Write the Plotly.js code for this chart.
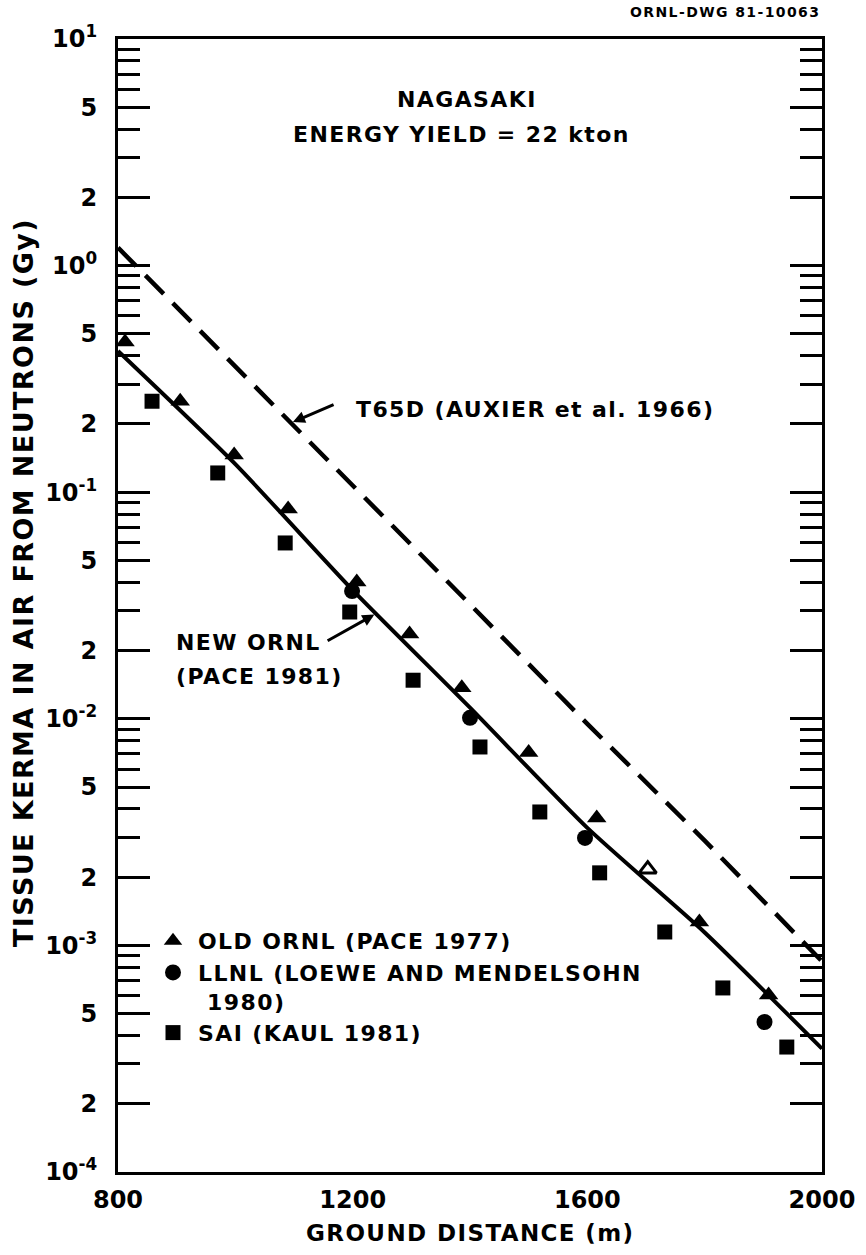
<!DOCTYPE html>
<html>
<head>
<meta charset="utf-8">
<script src="https://cdn.plot.ly/plotly-3.0.1.min.js"></script>
<style>
html,body{margin:0;padding:0;background:#fff}
#chart{width:866px;height:1255px}
.annotation-text, .legendtext { letter-spacing: 1.4px; }
</style>
</head>
<body>
<div id="chart"></div>
<script>
// ---- data ----
const t65dDist   = [800, 1000, 1200, 1400, 1600, 1800, 2000];
const t65dKerma  = [1.2, 0.36, 0.107, 0.032, 0.0095, 0.0029, 0.00085];

const newOrnlDist  = [800, 1000, 1200, 1400, 1600, 1800, 2000];
const newOrnlKerma = [0.42, 0.133, 0.037, 0.0112, 0.0033, 0.00114, 0.00035];

const oldOrnlDist  = [812, 906, 998, 1090, 1207, 1297, 1386, 1500, 1616, 1791, 1909];
const oldOrnlKerma = [0.46, 0.252, 0.146, 0.0843, 0.0402, 0.0237, 0.0137, 0.0071, 0.00365, 0.00127, 0.000604];
const oldOrnlOpenDist  = [1703];
const oldOrnlOpenKerma = [0.00217];

const llnlDist  = [1199, 1400, 1596, 1902];
const llnlKerma = [0.0366, 0.0101, 0.00298, 0.000459];

const saiDist  = [858, 970, 1085, 1195, 1303, 1417, 1519, 1621, 1732, 1831, 1940];
const saiKerma = [0.252, 0.1216, 0.0597, 0.0296, 0.0148, 0.00751, 0.00388, 0.00209, 0.001146, 0.000649, 0.000356];

const xTickVals = [800, 1200, 1600, 2000];
const xTickText = ['800', '1200', '1600', '2000'];
const yTickVals = [10, 5, 2, 1, 0.5, 0.2, 0.1, 0.05, 0.02, 0.01, 0.005, 0.002, 0.001, 0.0005, 0.0002, 0.0001];
const yTickText = ['10<sup>1</sup>', '5', '2', '10<sup>0</sup>', '5', '2', '10<sup>-1</sup>', '5', '2',
                   '10<sup>-2</sup>', '5', '2', '10<sup>-3</sup>', '5', '2', '10<sup>-4</sup>'];
const yMinorMant = [3, 4, 6, 7, 8, 9];
const decades = [-4, -3, -2, -1, 0];

const legendOld  = 'OLD ORNL (PACE 1977)';
const legendLlnl = 'LLNL (LOEWE AND MENDELSOHN<br>&nbsp;1980)';
const legendSai  = 'SAI (KAUL 1981)';

// ---- build ----
const yMinor = [];
decades.forEach(d => yMinorMant.forEach(m => yMinor.push(m * Math.pow(10, d))));

function interpLog(xs, ys, x) {
  for (let i = 0; i < xs.length - 1; i++) {
    if (x >= xs[i] && x <= xs[i + 1]) {
      const f = (x - xs[i]) / (xs[i + 1] - xs[i]);
      return Math.pow(10, Math.log10(ys[i]) + f * (Math.log10(ys[i + 1]) - Math.log10(ys[i])));
    }
  }
  return ys[ys.length - 1];
}

const FONT = 'DejaVu Sans, Arial, sans-serif';
const bold = (size) => ({family: FONT, size: size, color: '#000', weight: 'bold'});

// pixel -> paper helpers (plot area 118..822 x, 39..1172 y)
const L = 118, R = 822, T = 39, B = 1172;
const px = (x) => (x - L) / (R - L);
const py = (y) => (B - y) / (B - T);

const traces = [
  {x: t65dDist, y: t65dKerma, mode: 'lines', showlegend: false,
   line: {color: '#000', width: 4.5, dash: '26px,13px'}, hoverinfo: 'skip'},
  {x: newOrnlDist, y: newOrnlKerma, mode: 'lines', showlegend: false,
   line: {color: '#000', width: 4, shape: 'spline', smoothing: 0.6}, hoverinfo: 'skip'},
  {x: oldOrnlDist, y: oldOrnlKerma, mode: 'markers', name: legendOld,
   marker: {symbol: 'triangle-up', size: 17, color: '#000'}},
  {x: oldOrnlOpenDist, y: oldOrnlOpenKerma, mode: 'markers', showlegend: false,
   marker: {symbol: 'triangle-up', size: 15, color: '#fff', line: {color: '#000', width: 3}}},
  {x: llnlDist, y: llnlKerma, mode: 'markers', name: legendLlnl,
   marker: {symbol: 'circle', size: 16, color: '#000'}},
  {x: saiDist, y: saiKerma, mode: 'markers', name: legendSai,
   marker: {symbol: 'square', size: 15, color: '#000'}}
];

const t65dArrowX = 1095, newArrowX = 1240;

const layout = {
  width: 866, height: 1255,
  margin: {l: L, r: 866 - R, t: T, b: 1255 - B},
  paper_bgcolor: '#fff', plot_bgcolor: '#fff',
  showlegend: true,
  legend: {x: px(148), y: py(920), xanchor: 'left', yanchor: 'top', valign: 'top',
           bgcolor: 'rgba(0,0,0,0)', font: bold(22), tracegroupgap: 0, itemwidth: 40},
  xaxis: {type: 'linear', range: [800, 2000], tickmode: 'array', tickvals: xTickVals, ticktext: xTickText,
          ticks: '', showgrid: false, zeroline: false, showline: true, linewidth: 3, linecolor: '#000',
          mirror: true, tickfont: bold(24), ticklabelstandoff: 4},
  yaxis: {type: 'log', range: [-4, 1], tickmode: 'array', tickvals: yTickVals, ticktext: yTickText,
          ticks: 'inside', ticklen: 32, tickwidth: 3, tickcolor: '#000',
          showgrid: false, zeroline: false, showline: true, linewidth: 3, linecolor: '#000',
          mirror: 'ticks', tickfont: bold(24), ticklabelstandoff: 13,
          minor: {tickmode: 'array', tickvals: yMinor, ticks: 'inside', ticklen: 22, tickwidth: 3, tickcolor: '#000', showgrid: false}},
  annotations: [
    {xref: 'paper', yref: 'paper', x: 1, y: py(12), xanchor: 'right', yanchor: 'middle',
     text: 'ORNL-DWG 81-10063', showarrow: false, font: bold(14)},
    {xref: 'paper', yref: 'paper', x: px(467), y: py(99), xanchor: 'center', yanchor: 'middle',
     text: 'NAGASAKI', showarrow: false, font: bold(22)},
    {xref: 'paper', yref: 'paper', x: px(461), y: py(134), xanchor: 'center', yanchor: 'middle',
     text: 'ENERGY YIELD = 22 kton', showarrow: false, font: bold(22)},
    {xref: 'paper', yref: 'paper', x: px(354), y: py(409), xanchor: 'left', yanchor: 'middle',
     text: 'T65D (AUXIER et al. 1966)', showarrow: false, font: bold(22)},
    {xref: 'x', yref: 'y', x: t65dArrowX, y: Math.log10(interpLog(t65dDist, t65dKerma, t65dArrowX)),
     text: '', showarrow: true, arrowhead: 2, arrowsize: 0.8, arrowwidth: 3, arrowcolor: '#000',
     ax: 44, ay: -19, standoff: 2},
    {xref: 'paper', yref: 'paper', x: px(174), y: py(642), xanchor: 'left', yanchor: 'middle',
     text: 'NEW ORNL', showarrow: false, font: bold(22)},
    {xref: 'paper', yref: 'paper', x: px(174), y: py(676), xanchor: 'left', yanchor: 'middle',
     text: '(PACE 1981)', showarrow: false, font: bold(22)},
    {xref: 'x', yref: 'y', x: newArrowX, y: Math.log10(interpLog(newOrnlDist, newOrnlKerma, newArrowX)),
     text: '', showarrow: true, arrowhead: 2, arrowsize: 0.8, arrowwidth: 3, arrowcolor: '#000',
     ax: -50, ay: 28, standoff: 2},
    {xref: 'paper', yref: 'paper', x: px(470), y: py(1233), xanchor: 'center', yanchor: 'middle',
     text: 'GROUND DISTANCE (m)', showarrow: false, font: bold(23)},
    {xref: 'paper', yref: 'paper', x: px(23), y: py(583), xanchor: 'center', yanchor: 'middle',
     text: 'TISSUE KERMA IN AIR FROM NEUTRONS (Gy)', textangle: -90, showarrow: false, font: bold(27)}
  ]
};

Plotly.newPlot('chart', traces, layout, {staticPlot: true, displayModeBar: false});
</script>
</body>
</html>
